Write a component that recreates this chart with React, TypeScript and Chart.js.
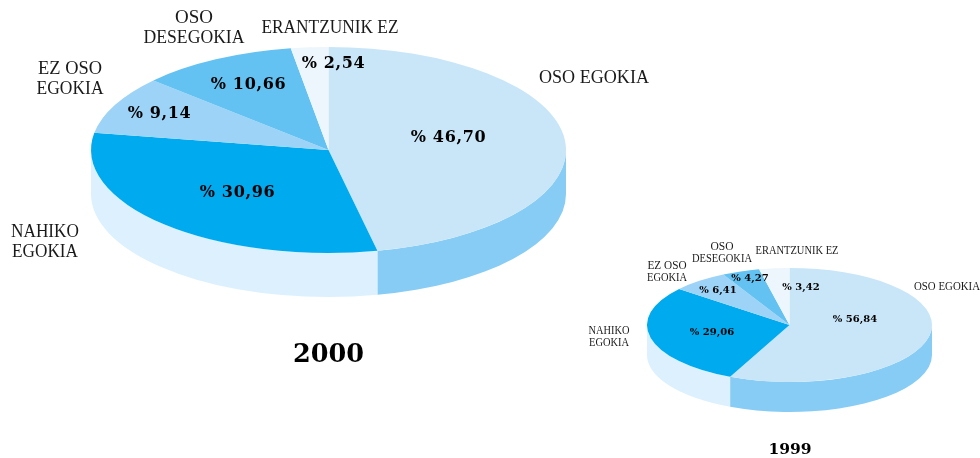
import React, { useEffect, useRef } from "react";
import { Chart, registerables } from "chart.js";

Chart.register(...registerables);

const categories = ["OSO EGOKIA", "NAHIKO EGOKIA", "EZ OSO EGOKIA", "OSO DESEGOKIA", "ERANTZUNIK EZ"];
const values2000 = [46.7, 30.96, 9.14, 10.66, 2.54];
const values1999 = [56.84, 29.06, 6.41, 4.27, 3.42];
const sliceColors = ["#c9e6f9", "#00aaee", "#9dd3f7", "#63c2f2", "#edf6fd"];
const wallColors = ["#87ccf5", "#dcf0fe", "#9dd3f7", "#63c2f2", "#edf6fd"];

const labelLines = [["OSO EGOKIA"], ["NAHIKO", "EGOKIA"], ["EZ OSO", "EGOKIA"], ["OSO", "DESEGOKIA"], ["ERANTZUNIK EZ"]];

type Layout = {
  title: string;
  values: number[];
  cx: number; cy: number; rx: number; ry: number; depth: number;
  titlePos: [number, number]; titleFont: string;
  labelFont: string; valueFont: string; valueSpacing: string;
  lineGap: number;
  labelPos: [number, number][];
  labelMax: number[][];
  valuePos: [number, number][];
};

const layout2000: Layout = {
  title: "2000", values: values2000,
  cx: 328.5, cy: 150, rx: 237.5, ry: 103, depth: 44,
  titlePos: [328.5, 355], titleFont: "bold 25.5px 'DejaVu Serif'",
  labelFont: "19px 'Liberation Serif'", valueFont: "bold 16px 'DejaVu Serif'", valueSpacing: "0.65px",
  lineGap: 20,
  labelPos: [[594, 78], [45, 232], [70, 69], [194, 18], [330, 28]],
  labelMax: [[110], [68, 66], [64, 67], [40, 101], [137]],
  valuePos: [[448.5, 138], [237.5, 193], [159.5, 114], [248.5, 85], [333.5, 64]],
};

const layout1999: Layout = {
  title: "1999", values: values1999,
  cx: 789.5, cy: 325, rx: 142.5, ry: 57, depth: 30,
  titlePos: [790, 450], titleFont: "bold 15.5px 'DejaVu Serif'",
  labelFont: "11.5px 'Liberation Serif'", valueFont: "bold 10px 'DejaVu Serif'", valueSpacing: "0px",
  lineGap: 12,
  labelPos: [[947, 287], [609, 331], [667, 266], [722, 247], [797, 251]],
  labelMax: [[66], [41, 40], [39, 40], [24, 60], [83]],
  valuePos: [[855, 319], [712, 332], [718, 290], [750, 278], [801, 287]],
};

const fmt = (v: number) => "% " + v.toFixed(2).replace(".", ",");

const pie3d = (l: Layout) => ({
  id: "pie3d",
  beforeDatasetsDraw(chart: any) {
    const { ctx } = chart;
    const arcs = chart.getDatasetMeta(0).data;
    arcs.forEach((arc: any, i: number) => {
      const a = Math.max(arc.startAngle, 0);
      const b = Math.min(arc.endAngle, Math.PI);
      if (b <= a) return;
      ctx.beginPath();
      ctx.ellipse(l.cx, l.cy, l.rx, l.ry, 0, a, b);
      ctx.ellipse(l.cx, l.cy + l.depth, l.rx, l.ry, 0, b, a, true);
      ctx.closePath();
      ctx.fillStyle = wallColors[i];
      ctx.fill();
    });
    const first = arcs[0];
    ctx.save();
    ctx.translate(l.cx, l.cy);
    ctx.scale(l.rx / first.outerRadius, l.ry / first.outerRadius);
    ctx.translate(-first.x, -first.y);
  },
  afterDatasetsDraw(chart: any) {
    const { ctx } = chart;
    ctx.restore();
    ctx.fillStyle = "#000";
    ctx.textAlign = "center";
    ctx.textBaseline = "middle";
    ctx.font = l.valueFont;
    ctx.letterSpacing = l.valueSpacing;
    l.values.forEach((v, i) => ctx.fillText(fmt(v), l.valuePos[i][0], l.valuePos[i][1]));
    ctx.letterSpacing = "0px";
    ctx.fillStyle = "#1a1a1a";
    ctx.font = l.labelFont;
    labelLines.forEach((lines, i) => {
      lines.forEach((t, j) => {
        ctx.fillText(t, l.labelPos[i][0], l.labelPos[i][1] + j * l.lineGap, l.labelMax[i][j]);
      });
    });
    ctx.fillStyle = "#000";
    ctx.font = l.titleFont;
    ctx.fillText(l.title, l.titlePos[0], l.titlePos[1]);
  },
});

function Pie({ layout }: { layout: Layout }) {
  const ref = useRef<HTMLCanvasElement>(null);
  useEffect(() => {
    const chart = new Chart(ref.current!, {
      type: "pie",
      data: {
        labels: categories,
        datasets: [{ data: layout.values, backgroundColor: sliceColors, borderWidth: 0 }],
      },
      options: {
        responsive: false,
        animation: false,
        plugins: { legend: { display: false }, tooltip: { enabled: false } },
      },
      plugins: [pie3d(layout)],
    } as any);
    return () => chart.destroy();
  }, [layout]);
  return (
    <canvas
      ref={ref}
      width={980}
      height={458}
      style={{ position: "absolute", left: 0, top: 0, width: 980, height: 458 }}
    />
  );
}

export default function App() {
  return (
    <div style={{ position: "absolute", left: 0, top: 0, width: 980, height: 458, background: "#fff" }}>
      <Pie layout={layout2000} />
      <Pie layout={layout1999} />
    </div>
  );
}
